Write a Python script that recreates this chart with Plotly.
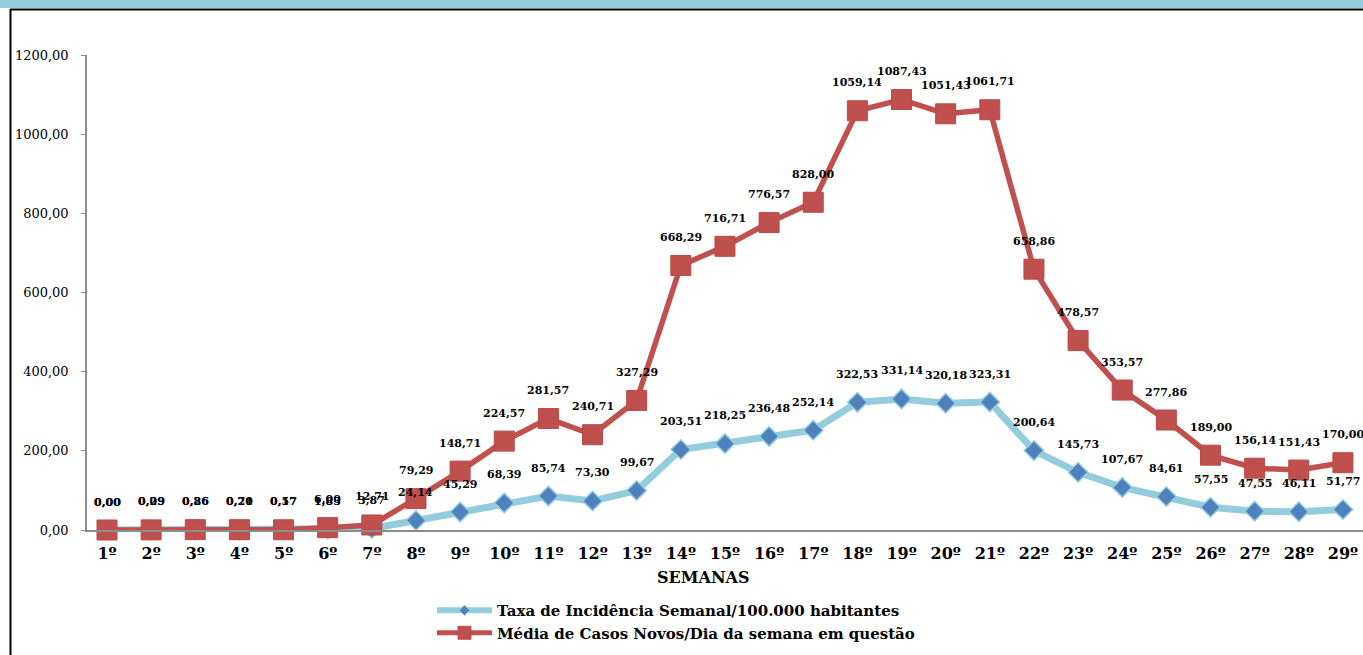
import plotly.graph_objects as go

semanas = ["1º","2º","3º","4º","5º","6º","7º","8º","9º","10º","11º","12º","13º","14º","15º",
           "16º","17º","18º","19º","20º","21º","22º","23º","24º","25º","26º","27º","28º","29º"]
taxa = [0.00,0.09,0.26,0.21,0.17,1.83,3.87,24.14,45.29,68.39,85.74,73.30,99.67,203.51,218.25,
        236.48,252.14,322.53,331.14,320.18,323.31,200.64,145.73,107.67,84.61,57.55,47.55,46.11,51.77]
media = [0.00,0.29,0.86,0.70,0.57,6.00,12.71,79.29,148.71,224.57,281.57,240.71,327.29,668.29,716.71,
         776.57,828.00,1059.14,1087.43,1051.43,1061.71,658.86,478.57,353.57,277.86,189.00,156.14,151.43,170.00]
nome_taxa = "Taxa de Incidência Semanal/100.000 habitantes"
nome_media = "Média de Casos Novos/Dia da semana em questão"
ytick_vals = [0, 200, 400, 600, 800, 1000, 1200]

W, H = 1363, 655
L, R, T, B = 87, 0, 55, 125
PW, PH = W - L - R, H - T - B

def px_x(px):
    return (px - L) / PW

def px_y(py):
    return (H - B - py) / PH

def fmt(v):
    return f"{v:.2f}".replace(".", ",")

FONT = "DejaVu Serif"
RED = "#C0504D"
LBLUE = "#93CDDD"
DBLUE = "#4F81BD"

fig = go.Figure()
fig.add_trace(go.Scatter(
    x=semanas, y=taxa, name=nome_taxa, mode="lines+markers", showlegend=False,
    line=dict(color=LBLUE, width=7),
    marker=dict(symbol="diamond", size=15, color=DBLUE, line=dict(color=LBLUE, width=1.5)),
    cliponaxis=False,
))
fig.add_trace(go.Scatter(
    x=semanas, y=media, name=nome_media, mode="lines+markers", showlegend=False,
    line=dict(color=RED, width=5.5),
    marker=dict(symbol="square", size=20, color=RED, line=dict(color="#B84A47", width=1)),
    cliponaxis=False,
))
# legend entries (smaller symbols, as in the original legend)
fig.add_trace(go.Scatter(
    x=[None], y=[None], name=nome_taxa, mode="lines+markers",
    line=dict(color=LBLUE, width=6),
    marker=dict(symbol="diamond", size=8, color=DBLUE, line=dict(color=LBLUE, width=1)),
))
fig.add_trace(go.Scatter(
    x=[None], y=[None], name=nome_media, mode="lines+markers",
    line=dict(color=RED, width=5),
    marker=dict(symbol="square", size=13, color=RED, line=dict(color=RED, width=1)),
))

annotations = []
for s, v in zip(semanas, taxa):
    annotations.append(dict(x=s, y=v, text=fmt(v), showarrow=False, yshift=28, yanchor="middle",
                            font=dict(family=FONT, size=11, color="#000000", weight="bold")))
for s, v in zip(semanas, media):
    annotations.append(dict(x=s, y=v, text=fmt(v), showarrow=False, yshift=28, yanchor="middle",
                            font=dict(family=FONT, size=11, color="#000000", weight="bold")))
annotations.append(dict(x=px_x(703), y=px_y(577), xref="paper", yref="paper", text="<b>SEMANAS</b>",
                        showarrow=False, xanchor="center", yanchor="middle",
                        font=dict(family=FONT, size=16, color="#000000")))

shapes = [
    dict(type="rect", xref="paper", yref="paper", x0=px_x(0), x1=px_x(W), y0=px_y(0), y1=px_y(8),
         fillcolor="#92CDDC", line=dict(width=0), layer="below"),
    dict(type="line", xref="paper", yref="paper", x0=px_x(10), x1=px_x(W), y0=px_y(9.5), y1=px_y(9.5),
         line=dict(color="#000000", width=2)),
    dict(type="line", xref="paper", yref="paper", x0=px_x(10.5), x1=px_x(10.5), y0=px_y(9), y1=px_y(H),
         line=dict(color="#000000", width=2)),
]

fig.update_layout(
    width=W, height=H,
    margin=dict(l=L, r=R, t=T, b=B, autoexpand=False),
    paper_bgcolor="#FFFFFF", plot_bgcolor="#FFFFFF",
    separators=",.",
    showlegend=True,
    legend=dict(x=px_x(432), y=px_y(594), xanchor="left", yanchor="top",
                font=dict(family=FONT, size=15, color="#000000", weight="bold"),
                bgcolor="rgba(0,0,0,0)", tracegroupgap=2, itemwidth=55),
    annotations=annotations,
    shapes=shapes,
    xaxis=dict(type="category", range=[-0.453, 28.455], showgrid=False, zeroline=False,
               showline=True, linecolor="#8C8C8C", linewidth=1.5,
               ticks="", tickfont=dict(family=FONT, size=16, color="#000000", weight="bold"),
               ticklabelstandoff=8),
    yaxis=dict(range=[0, 1200], tickvals=ytick_vals, tickformat=".2f", showgrid=False, zeroline=False,
               showline=True, linecolor="#8C8C8C", linewidth=1.5,
               ticks="outside", ticklen=4, tickcolor="#8C8C8C",
               tickfont=dict(family=FONT, size=13, color="#000000"), ticklabelstandoff=10),
)

fig.write_html("out.html", config={"displayModeBar": False},
               post_script="document.body.style.margin='0';document.body.style.overflow='hidden';")
